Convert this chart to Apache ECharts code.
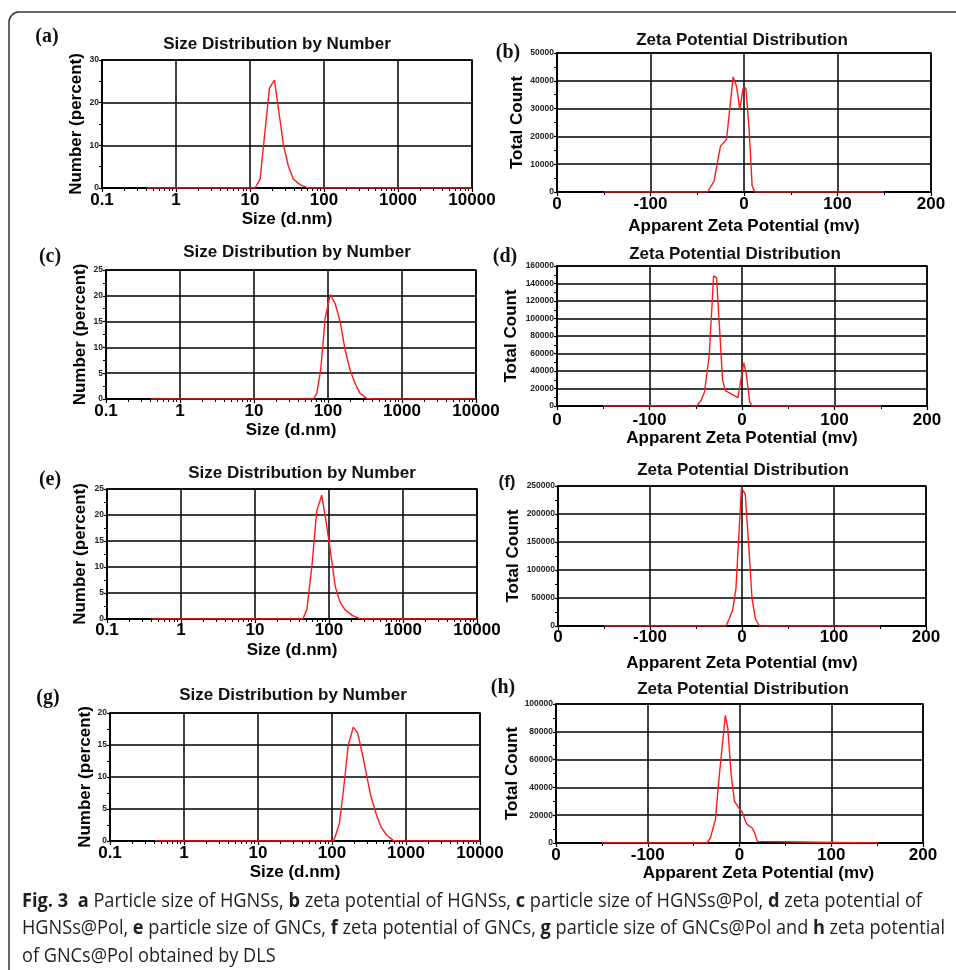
<!DOCTYPE html>
<html>
<head>
<meta charset="utf-8">
<title>DLS size and zeta potential distributions</title>
<script src="https://cdn.jsdelivr.net/npm/echarts@6/dist/echarts.min.js"></script>
<style>
  html, body { margin: 0; padding: 0; background: #fff; }
  #chart { width: 956px; height: 970px; }
</style>
</head>
<body>
<div id="chart"></div>
<script>
// ---- Tick labels -------------------------------------------------------
const sizeTickLabels = ['0.1', '1', '10', '100', '1000', '10000'];
const zetaTickLabels = ['0', '-100', '0', '100', '200'];

// ---- (a) HGNSs: size distribution by number ---------------------------
const sizeA   = [0.4, 11.7, 13.7, 18.3, 21.4, 28.3, 33, 38.5, 47.4, 58.4, 68, 10000];
const numberA = [0, 0, 2.1, 23.4, 25.3, 10.1, 5.1, 2.1, 0.8, 0.15, 0, 0];

// ---- (b) HGNSs: zeta potential distribution ---------------------------
const zetaB  = [-150, -39, -32, -25.2, -18.7, -11.6, -8, -4.5, -0.9, 2, 5.5, 8.7, 11.6, 150];
const countB = [0, 0, 3950, 16500, 18900, 41400, 38000, 29900, 37400, 37400, 22500, 2200, 0, 0];

// ---- (c) HGNSs@Pol: size distribution by number -----------------------
const sizeC   = [0.4, 63.7, 70.6, 80, 91.5, 106.9, 124.8, 145.8, 170.3, 199, 232.5, 271.6, 334, 389, 10000];
const numberC = [0, 0, 1.1, 5.9, 15.6, 20.2, 18.5, 15, 9.5, 5.6, 3.0, 1.1, 0.13, 0, 0];

// ---- (d) HGNSs@Pol: zeta potential distribution -----------------------
const zetaD  = [-150, -48.8, -44.1, -40.5, -35.4, -30.7, -27.5, -21, -18.1, -4.3, 1.8, 4.5, 8.3, 10.9, 150];
const countD = [0, 0, 6800, 16300, 58000, 148600, 146700, 29600, 17500, 9500, 49400, 38000, 5000, 0, 0];

// ---- (e) GNCs: size distribution by number ----------------------------
const sizeE   = [0.4, 44.2, 50.1, 59, 68.2, 79.6, 91.2, 106.4, 121.7, 140.6, 166, 208, 256, 299, 10000];
const numberE = [0, 0, 1.7, 10.4, 20.7, 23.8, 18.8, 12.3, 6.2, 3.3, 1.7, 0.64, 0.13, 0, 0];

// ---- (f) GNCs: zeta potential distribution ----------------------------
const zetaF  = [-150, -17.5, -13.9, -10.2, -6.6, -3.6, -0.7, 1.8, 3.6, 7.3, 10.9, 14.6, 19, 150];
const countF = [0, 0, 13000, 28000, 66700, 156000, 245000, 240500, 234500, 144000, 48800, 13000, 0, 0];

// ---- (g) GNCs@Pol: size distribution by number ------------------------
const sizeG   = [0.4, 104, 109.6, 125.6, 142, 166, 194, 222, 259.5, 294, 333, 393.6, 459, 548, 674, 787, 10000];
const numberG = [0, 0, 0.6, 2.7, 7.7, 15, 17.8, 16.9, 13.4, 10.3, 7.1, 4.3, 2.2, 0.9, 0.1, 0, 0];

// ---- (h) GNCs@Pol: zeta potential distribution ------------------------
const zetaH  = [-150, -35.5, -31.8, -26.3, -21.6, -15.4, -12.8, -9.1, -5.5, -0.7, 2.9, 6.6, 8.4, 13.9, 16.5, 19.4, 21.2, 150];
const countH = [0, 0, 3600, 16800, 51600, 91800, 82700, 49200, 30000, 25200, 22300, 15600, 13200, 10800, 7200, 1200, 0, 0];

// ---- Caption ------------------------------------------------------------
const captionLines = [
  '{b|Fig. 3}  {b|a} Particle size of HGNSs, {b|b} zeta potential of HGNSs, {b|c} particle size of HGNSs@Pol, {b|d} zeta potential of',
  'HGNSs@Pol, {b|e} particle size of GNCs, {b|f} zeta potential of GNCs, {b|g} particle size of GNCs@Pol and {b|h} zeta potential',
  'of GNCs@Pol obtained by DLS'
];
// measure of the two full lines; the last line keeps the same condensing as the one above it
const captionLineWidths = [900, 923];

// ---- Layout of the eight panels -----------------------------------------
const SANS = '"Liberation Sans", Arial, Helvetica, sans-serif';
const SERIF = '"Liberation Serif", "Times New Roman", serif';
const CAPTION = '"Open Sans", "Noto Sans", sans-serif';
const CAPTION_SIZE = 20;

const panels = [
  { tag: '(a)', kind: 'size', xs: sizeA, ys: numberA, yMax: 30,     yStep: 10,    grid: { left: 102, top: 60,  width: 370, height: 128 }, xGap: 22.5, yGap: 17.5, xMargin: 3.5, title: [277, 44],  tagPos: [47, 37] },
  { tag: '(b)', kind: 'zeta', xs: zetaB, ys: countB,  yMax: 50000,  yStep: 10000, grid: { left: 557, top: 53,  width: 374, height: 139 }, xGap: 26,   yGap: 31,   xMargin: 4,   title: [742, 40],  tagPos: [508, 53] },
  { tag: '(c)', kind: 'size', xs: sizeC, ys: numberC, yMax: 25,     yStep: 5,     grid: { left: 106, top: 270, width: 370, height: 129 }, xGap: 22.5, yGap: 17.5, xMargin: 3.5, title: [297, 252], tagPos: [50, 257] },
  { tag: '(d)', kind: 'zeta', xs: zetaD, ys: countD,  yMax: 160000, yStep: 20000, grid: { left: 557, top: 266, width: 370, height: 140 }, xGap: 22.5, yGap: 37.5, xMargin: 5.5, title: [735, 254], tagPos: [505, 257] },
  { tag: '(e)', kind: 'size', xs: sizeE, ys: numberE, yMax: 25,     yStep: 5,     grid: { left: 107, top: 489, width: 370, height: 130 }, xGap: 22.5, yGap: 18.5, xMargin: 2.5, title: [302, 473], tagPos: [50, 480] },
  { tag: '(f)', kind: 'zeta', xs: zetaF, ys: countF,  yMax: 250000, yStep: 50000, grid: { left: 558, top: 486, width: 368, height: 140 }, xGap: 28.5, yGap: 36.5, xMargin: 3,   title: [743, 470], tagPos: [507, 482], sansTag: true },
  { tag: '(g)', kind: 'size', xs: sizeG, ys: numberG, yMax: 20,     yStep: 5,     grid: { left: 110, top: 713, width: 370, height: 128 }, xGap: 22.5, yGap: 16.5, xMargin: 3.5, title: [293, 695], tagPos: [48, 698] },
  { tag: '(h)', kind: 'zeta', xs: zetaH, ys: countH,  yMax: 100000, yStep: 20000, grid: { left: 556, top: 704, width: 367, height: 139 }, xGap: 20.5, yGap: 35.5, xMargin: 3.5, title: [743, 689], tagPos: [503, 688], xNameShift: 38 }
];

const ink = '#000';
const lineW = 1.5;

const grids = [], xAxes = [], yAxes = [], series = [], graphics = [];

panels.forEach((p, i) => {
  grids.push(Object.assign({ show: true, borderColor: ink, borderWidth: lineW, outerBoundsMode: 'none', containLabel: false }, p.grid));

  const isSize = p.kind === 'size';
  const xAxis = {
    gridIndex: i,
    name: isSize ? 'Size (d.nm)' : 'Apparent Zeta Potential (mv)',
    nameLocation: 'middle',
    nameGap: p.xGap,
    nameTextStyle: {
      fontFamily: SANS, fontWeight: 'bold', fontSize: 17, color: ink,
      padding: p.xNameShift ? [0, 0, 0, p.xNameShift] : 0
    },
    axisLine: { show: true, onZero: false, lineStyle: { color: ink, width: lineW } },
    axisTick: { show: true, inside: false, length: 4, lineStyle: { color: ink, width: 1.2 } },
    minorTick: { show: true, splitNumber: isSize ? 9 : 2, length: 3, lineStyle: { color: ink, width: 1 } },
    splitLine: { show: true, lineStyle: { color: ink, width: lineW } },
    axisLabel: {
      margin: p.xMargin, fontFamily: SANS, fontWeight: 'bold', fontSize: 17, color: ink,
      showMinLabel: true, showMaxLabel: true
    }
  };
  if (isSize) {
    Object.assign(xAxis, { type: 'log', logBase: 10, min: 0.1, max: 10000 });
    xAxis.axisLabel.formatter = v => sizeTickLabels[Math.round(Math.log10(v)) + 1];
  } else {
    Object.assign(xAxis, { type: 'value', min: -200, max: 200, interval: 100 });
    xAxis.axisLabel.formatter = v => zetaTickLabels[Math.round((v + 200) / 100)];
  }
  xAxes.push(xAxis);

  yAxes.push({
    type: 'value',
    gridIndex: i,
    min: 0, max: p.yMax, interval: p.yStep,
    name: isSize ? 'Number (percent)' : 'Total Count',
    nameLocation: 'middle',
    nameGap: p.yGap,
    nameTextStyle: { fontFamily: SANS, fontWeight: 'bold', fontSize: 17, color: ink },
    axisLine: { show: true, onZero: false, lineStyle: { color: ink, width: lineW } },
    axisTick: { show: true, inside: false, length: 3, lineStyle: { color: ink, width: 1.2 } },
    minorTick: { show: true, splitNumber: 2, length: 3, lineStyle: { color: ink, width: 1 } },
    splitLine: { show: true, lineStyle: { color: ink, width: lineW } },
    axisLabel: { margin: 3, fontFamily: SANS, fontWeight: 'bold', fontSize: 8.5, color: '#222', formatter: v => String(v) }
  });

  series.push({
    type: 'line',
    xAxisIndex: i,
    yAxisIndex: i,
    data: p.xs.map((x, k) => [x, p.ys[k]]),
    showSymbol: false,
    symbol: 'none',
    smooth: false,
    clip: true,
    lineStyle: { color: '#ff1a1a', width: 1.4 },
    z: 5
  });

  // panel heading
  graphics.push({
    type: 'text', x: p.title[0], y: p.title[1], z: 10,
    style: {
      text: isSize ? 'Size Distribution by Number' : 'Zeta Potential Distribution',
      align: 'center', verticalAlign: 'middle',
      fontFamily: SANS, fontWeight: 'bold', fontSize: 17, fill: '#111'
    }
  });
  // panel letter
  graphics.push({
    type: 'text', x: p.tagPos[0], y: p.tagPos[1], z: 10,
    style: {
      text: p.tag, align: 'center', verticalAlign: 'middle',
      fontFamily: p.sansTag ? SANS : SERIF, fontWeight: 'bold',
      fontSize: p.sansTag ? 17 : 20, fill: '#111'
    }
  });
});

// outer frame of the figure
graphics.push(
  { type: 'polyline', shape: { points: [[9, 970], [9, 22]] }, style: { stroke: '#333', lineWidth: 1.5, fill: null } },
  { type: 'arc', shape: { cx: 19, cy: 22, r: 10, startAngle: Math.PI, endAngle: Math.PI * 1.5, clockwise: true }, style: { stroke: '#333', lineWidth: 1.5, fill: null } },
  { type: 'polyline', shape: { points: [[19, 12], [956, 12]] }, style: { stroke: '#333', lineWidth: 1.5, fill: null } }
);

// caption lines: the typeface is condensed horizontally so the full lines fill their measure
const measureCtx = document.createElement('canvas').getContext('2d');
function measureRich(line) {
  let w = 0;
  const re = /\{b\|([^}]*)\}|([^{]+)/g;
  let m;
  while ((m = re.exec(line)) !== null) {
    const bold = m[1] !== undefined;
    measureCtx.font = (bold ? 'bold ' : '') + CAPTION_SIZE + 'px ' + CAPTION;
    w += measureCtx.measureText(bold ? m[1] : m[2]).width;
  }
  return w;
}
let lastScale = 1;
captionLines.forEach((line, k) => {
  const scale = k < captionLineWidths.length ? captionLineWidths[k] / measureRich(line) : lastScale;
  lastScale = scale;
  graphics.push({
    type: 'text', x: 22, y: 901 + k * 27.5, z: 10,
    scaleX: scale,
    style: {
      text: line, align: 'left', verticalAlign: 'middle',
      fontFamily: CAPTION, fontSize: CAPTION_SIZE, fill: '#231f20',
      rich: { b: { fontFamily: CAPTION, fontSize: CAPTION_SIZE, fontWeight: 'bold', fill: '#231f20' } }
    }
  });
});

const chart = echarts.init(document.getElementById('chart'), null, { renderer: 'canvas' });
chart.setOption({
  backgroundColor: '#fff',
  animation: false,
  grid: grids,
  xAxis: xAxes,
  yAxis: yAxes,
  series: series,
  graphic: { elements: graphics }
});
</script>
</body>
</html>
